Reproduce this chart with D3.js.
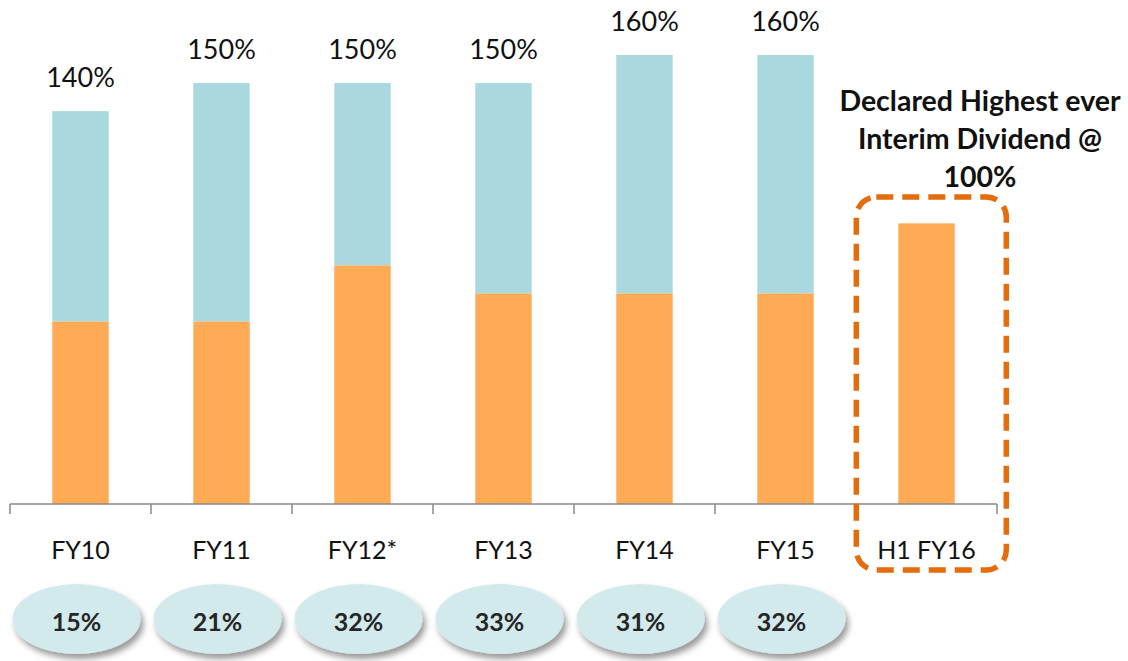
<!DOCTYPE html>
<html>
<head>
<meta charset="utf-8">
<script src="https://cdn.jsdelivr.net/npm/d3@7"></script>
<style>
  body { margin: 0; background: #fff; }
  svg { display: block; font-family: Lato, "Open Sans", sans-serif; }
</style>
</head>
<body>
<div id="chart"></div>
<script>
// dividend data (% of face value)
var categories = ["FY10", "FY11", "FY12*", "FY13", "FY14", "FY15", "H1 FY16"];
var baseValues = [65, 65, 85, 75, 75, 75, 100];      // orange part
var totalValues = [140, 150, 150, 150, 160, 160, 100]; // full bar
var totalLabels = ["140%", "150%", "150%", "150%", "160%", "160%", ""];
var payoutLabels = ["15%", "21%", "32%", "33%", "31%", "32%"];
var noteLines = ["Declared Highest ever", "Interim Dividend @", "100%"];

var width = 1128, height = 661;
var baseY = 504;

var svg = d3.select("#chart").append("svg")
    .attr("width", width)
    .attr("height", height);

var defs = svg.append("defs");
var f = defs.append("filter").attr("id", "shadow")
    .attr("x", "-20%").attr("y", "-20%").attr("width", "150%").attr("height", "160%");
f.append("feDropShadow").attr("dx", 3).attr("dy", 5).attr("stdDeviation", 3)
    .attr("flood-color", "#000").attr("flood-opacity", 0.4);

var x = d3.scaleBand()
    .domain(categories)
    .range([10, 997])
    .paddingInner(0.6)
    .paddingOuter(0.3);

var y = d3.scaleLinear()
    .domain([0, 160])
    .range([baseY, 55]);

var step = x.step();

// teal (top) segment
svg.selectAll(".top").data(categories).enter()
  .append("rect")
    .attr("x", d => x(d))
    .attr("width", x.bandwidth())
    .attr("y", (d, i) => y(totalValues[i]))
    .attr("height", (d, i) => y(baseValues[i]) - y(totalValues[i]))
    .style("fill", "#A9D9DE");

// orange (bottom) segment
svg.selectAll(".base").data(categories).enter()
  .append("rect")
    .attr("x", d => x(d))
    .attr("width", x.bandwidth())
    .attr("y", (d, i) => y(baseValues[i]))
    .attr("height", (d, i) => y(0) - y(baseValues[i]))
    .style("fill", "#FFAA55");

// total labels
svg.selectAll(".tl").data(categories).enter()
  .append("text")
    .attr("x", d => x(d) + x.bandwidth() / 2)
    .attr("y", (d, i) => y(totalValues[i]) - 24)
    .attr("text-anchor", "middle")
    .style("font-size", "27px")
    .style("fill", "#111")
    .text((d, i) => totalLabels[i]);

// axis line with ticks at band edges
var axis = svg.append("g");
axis.append("line")
    .attr("x1", x.range()[0]).attr("x2", x.range()[1])
    .attr("y1", baseY).attr("y2", baseY)
    .style("stroke", "#888").style("stroke-width", 1.5);
var edges = d3.range(categories.length + 1).map(i => x.range()[0] + i * step);
axis.selectAll(".tick").data(edges).enter()
  .append("line")
    .attr("x1", d => d).attr("x2", d => d)
    .attr("y1", baseY).attr("y2", baseY + 10)
    .style("stroke", "#888").style("stroke-width", 1.5);

// category labels
svg.selectAll(".cat").data(categories).enter()
  .append("text")
    .attr("x", d => x(d) + x.bandwidth() / 2)
    .attr("y", 559)
    .attr("text-anchor", "middle")
    .style("font-size", "25px")
    .style("fill", "#111")
    .text(d => d);

// payout ellipses
var pay = svg.selectAll(".pay").data(payoutLabels).enter().append("g");
pay.append("ellipse")
    .attr("cx", (d, i) => x(categories[i]) + x.bandwidth() / 2 - 4)
    .attr("cy", 619)
    .attr("rx", 64)
    .attr("ry", 35)
    .style("fill", "#D3EAED")
    .attr("filter", "url(#shadow)");
pay.append("text")
    .attr("x", (d, i) => x(categories[i]) + x.bandwidth() / 2 - 4)
    .attr("y", 631)
    .attr("text-anchor", "middle")
    .style("font-size", "25px")
    .style("font-weight", "bold")
    .style("fill", "#262626")
    .text(d => d);

// dashed highlight around H1 FY16
var last = categories[categories.length - 1];
svg.append("rect")
    .attr("x", x(last) - 42)
    .attr("y", 197)
    .attr("width", 150)
    .attr("height", 373)
    .attr("rx", 20)
    .style("fill", "none")
    .style("stroke", "#E46C0A")
    .style("stroke-width", 5.5)
    .style("stroke-dasharray", "17 9");

// annotation
svg.selectAll(".note").data(noteLines).enter()
  .append("text")
    .attr("x", 980)
    .attr("y", (d, i) => 111 + i * 38)
    .attr("text-anchor", "middle")
    .style("font-size", "28.5px")
    .style("font-weight", "bold")
    .style("fill", "#111")
    .text(d => d);
</script>
</body>
</html>
